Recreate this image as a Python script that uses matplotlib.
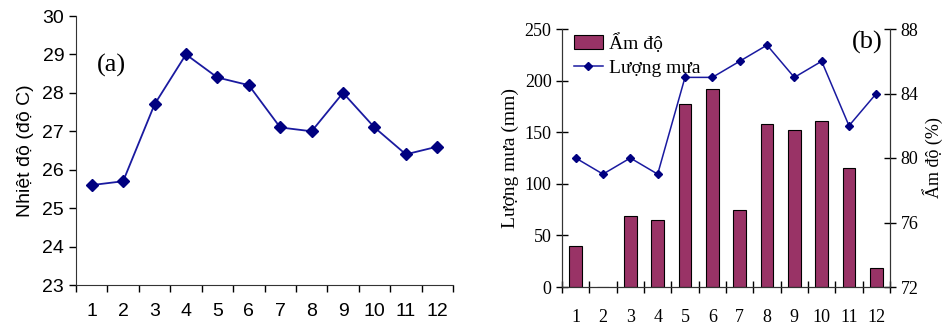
import matplotlib
matplotlib.use("Agg")
import matplotlib.pyplot as plt
import numpy as np
from matplotlib.patches import Patch
from matplotlib.lines import Line2D

months = list(range(1, 13))
month_labels = [str(m) for m in months]

# (a) nhiệt độ
temp = [25.6, 25.7, 27.7, 29.0, 28.4, 28.2, 27.1, 27.0, 28.0, 27.1, 26.4, 26.6]

# (b) cột (trục trái, mm) và đường (trục phải, %)
bars_b = [40, 0, 69, 65, 177, 192, 75, 158, 152, 161, 115, 18]
line_b = [80, 79, 80, 79, 85, 85, 86, 87, 85, 86, 82, 84]

NAVY = "#000080"
LINE = "#1a1aa0"
BAR = "#993366"

fig = plt.figure(figsize=(9.47, 3.27), dpi=100)
W, H = 947, 327

def box(l, r, t, b):
    return [l / W, 1 - b / H, (r - l) / W, (b - t) / H]

x = np.array(months)

# ---- panel (a) ----
ax1 = fig.add_axes(box(76, 453, 16, 285))
ax1.plot(x, temp, color=LINE, lw=1.3, marker="D", ms=6, mfc=NAVY, mec=NAVY, zorder=3)
ax1.set_xlim(0.5, 12.5)
ax1.set_ylim(23, 30)
ax1.set_yticks(range(23, 31))
ax1.set_xticks(np.arange(0.5, 13, 1))
ax1.set_xticklabels([])
ax1.set_xticks(x, minor=True)
ax1.set_xticklabels(month_labels, minor=True, fontsize=14, family="Liberation Sans")
ax1.tick_params(axis="x", which="minor", length=0, pad=13)
ax1.tick_params(axis="x", which="major", direction="out", length=5, width=1)
ax1.tick_params(axis="y", direction="out", length=5, width=1, labelsize=14)
for lab in ax1.get_yticklabels():
    lab.set_family("Liberation Sans")
for s in ["top", "right"]:
    ax1.spines[s].set_visible(False)
for s in ["left", "bottom"]:
    ax1.spines[s].set_color("#333333")
ax1.set_ylabel("Nhiệt độ (độ C)", fontsize=14, family="Liberation Sans", labelpad=6)
ax1.text(0.093, 0.818, "(a)", transform=ax1.transAxes, fontsize=19,
         family="Liberation Serif", ha="center", va="center")

# ---- panel (b) ----
ax2 = fig.add_axes(box(562, 890, 29, 287))
ax2.bar(x, bars_b, width=0.47, color=BAR, edgecolor="black", lw=0.8, zorder=2)
ax2.set_xlim(0.5, 12.5)
ax2.set_ylim(0, 250)
ax2.set_yticks(range(0, 251, 50))
ax2.set_xticks(np.arange(0.5, 13, 1))
ax2.set_xticklabels([])
ax2.set_xticks(x, minor=True)
ax2.set_xticklabels(month_labels, minor=True, fontsize=13, family="Liberation Serif")
ax2.tick_params(axis="x", which="minor", length=0, pad=16)
ax2.tick_params(axis="x", which="major", direction="inout", length=8, width=1)
ax2.tick_params(axis="y", direction="inout", length=8, width=1, labelsize=13)
for lab in ax2.get_yticklabels():
    lab.set_family("Liberation Serif")
ax2.set_ylabel("Lượng mưa (mm)", fontsize=14, family="Liberation Serif", labelpad=4)

ax3 = ax2.twinx()
ax3.plot(x, line_b, color=LINE, lw=1.1, marker="D", ms=4.5, mfc=NAVY, mec=NAVY, zorder=3)
ax3.set_ylim(72, 88)
ax3.set_yticks(range(72, 89, 4))
ax3.tick_params(axis="y", direction="inout", length=8, width=1, labelsize=13)
for lab in ax3.get_yticklabels():
    lab.set_family("Liberation Serif")
ax3.set_ylabel("Ẩm độ (%)", fontsize=13, family="Liberation Serif", labelpad=3)
ax3.yaxis.label.set_rotation(90)

for a in (ax2, ax3):
    a.spines["top"].set_visible(False)
    for s in ["left", "right", "bottom"]:
        a.spines[s].set_color("#333333")

handles = [Patch(facecolor=BAR, edgecolor="black", lw=0.8, label="Ẩm độ"),
           Line2D([0], [0], color=LINE, lw=1.1, marker="D", ms=4.5, mfc=NAVY, mec=NAVY,
                  label="Lượng mưa")]
ax3.legend(handles=handles, loc="upper left", bbox_to_anchor=(0.0, 1.03), frameon=False,
           prop={"family": "Liberation Serif", "size": 14}, handlelength=1.5,
           handletextpad=0.3, labelspacing=0.35, borderaxespad=0.2)
ax3.text(0.93, 0.946, "(b)", transform=ax3.transAxes, fontsize=19,
         family="Liberation Serif", ha="center", va="center")

fig.savefig("out.png", dpi=100)
